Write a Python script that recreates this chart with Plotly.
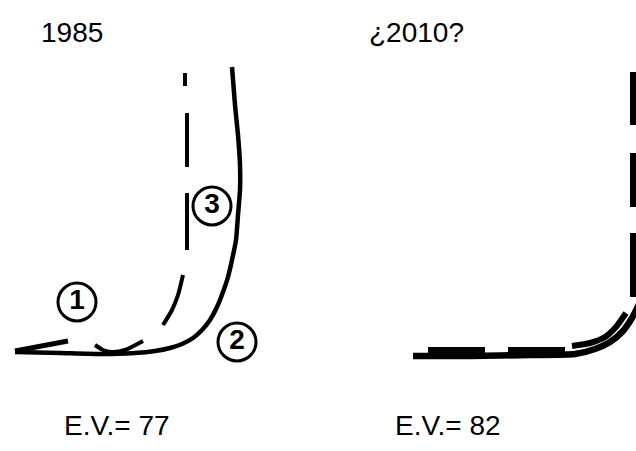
import plotly.graph_objects as go

# ---- data (page-unit coordinates) ----
# Left panel (1985)
solid_1985_x = [15, 60, 100, 135, 155, 170, 182, 193, 202, 210, 217, 223, 228, 232, 236, 238, 240, 240, 238, 235, 232]
solid_1985_y = [352, 353, 354, 353, 351, 348, 344, 338, 330, 320, 307, 292, 277, 260, 240, 215, 190, 165, 135, 105, 67]

line1_1985_x = [15, 68]
line1_1985_y = [351, 341]

dashed_1985_x = [185, 185, None, 187, 187, None, 187, 187, None, 183, 178, 172, 163, None, 95, 103, 112, 125, 143]
dashed_1985_y = [73, 86, None, 113, 167, None, 193, 250, None, 275, 295, 310, 325, None, 345, 350, 352, 350, 341]

circle_labels = ["1", "2", "3"]
circle_x = [77, 237, 212]
circle_y = [302, 342, 206]

# Right panel (2010)
solid_2010_x = [413, 470, 530, 575, 595, 610, 622, 632, 642]
solid_2010_y = [356, 356, 355, 354, 349, 342, 332, 318, 298]

dashed_2010_x = [428, 485, None, 508, 565, None, 572, 590, 605, 616, 626, None,
                 633, 633, None, 633, 633, None, 633, 633]
dashed_2010_y = [350, 350, None, 350, 350, None, 346, 343, 337, 327, 313, None,
                 72, 125, None, 153, 207, None, 233, 297]

year_labels = ["1985", "¿2010?"]
year_x = [72, 416]
year_y = [32, 32]

ev_labels = ["E.V.= 77", "E.V.= 82"]
ev_x = [117, 448]
ev_y = [425, 425]

W, H = 636, 451

fig = go.Figure()

fig.add_trace(go.Scatter(x=solid_1985_x, y=solid_1985_y, mode="lines",
                         line=dict(color="black", width=4.5, shape="spline", smoothing=0.5),
                         hoverinfo="skip"))
fig.add_trace(go.Scatter(x=line1_1985_x, y=line1_1985_y, mode="lines",
                         line=dict(color="black", width=5), hoverinfo="skip"))
fig.add_trace(go.Scatter(x=dashed_1985_x, y=dashed_1985_y, mode="lines",
                         line=dict(color="black", width=4, shape="spline", smoothing=0.6),
                         connectgaps=False, hoverinfo="skip"))

fig.add_trace(go.Scatter(x=solid_2010_x, y=solid_2010_y, mode="lines",
                         line=dict(color="black", width=6.5, shape="spline", smoothing=0.6),
                         hoverinfo="skip"))
fig.add_trace(go.Scatter(x=dashed_2010_x, y=dashed_2010_y, mode="lines",
                         line=dict(color="black", width=6, shape="spline", smoothing=0.6),
                         connectgaps=False, hoverinfo="skip"))

fig.add_trace(go.Scatter(x=circle_x, y=circle_y, mode="markers+text",
                         text=circle_labels, textposition="middle center",
                         textfont=dict(family="Liberation Sans, Arial, sans-serif",
                                       size=28, color="black", weight="bold"),
                         marker=dict(symbol="circle-open", size=38, color="black",
                                     line=dict(width=3, color="black")),
                         hoverinfo="skip"))

for t, x, y in zip(year_labels + ev_labels, year_x + ev_x, year_y + ev_y):
    fig.add_annotation(x=x, y=y, text=t, showarrow=False, xanchor="center", yanchor="middle",
                       font=dict(family="Liberation Sans, Arial, sans-serif", size=28, color="black"))

fig.update_layout(
    width=W, height=H,
    margin=dict(l=0, r=0, t=0, b=0),
    paper_bgcolor="white", plot_bgcolor="white",
    showlegend=False,
    hovermode=False,
    xaxis=dict(range=[0, W], visible=False, fixedrange=True),
    yaxis=dict(range=[H, 0], visible=False, fixedrange=True),
)

fig.write_html("out.html",
               config={"displayModeBar": False, "staticPlot": True},
               post_script="document.body.style.margin='0';document.body.style.overflow='hidden';")
